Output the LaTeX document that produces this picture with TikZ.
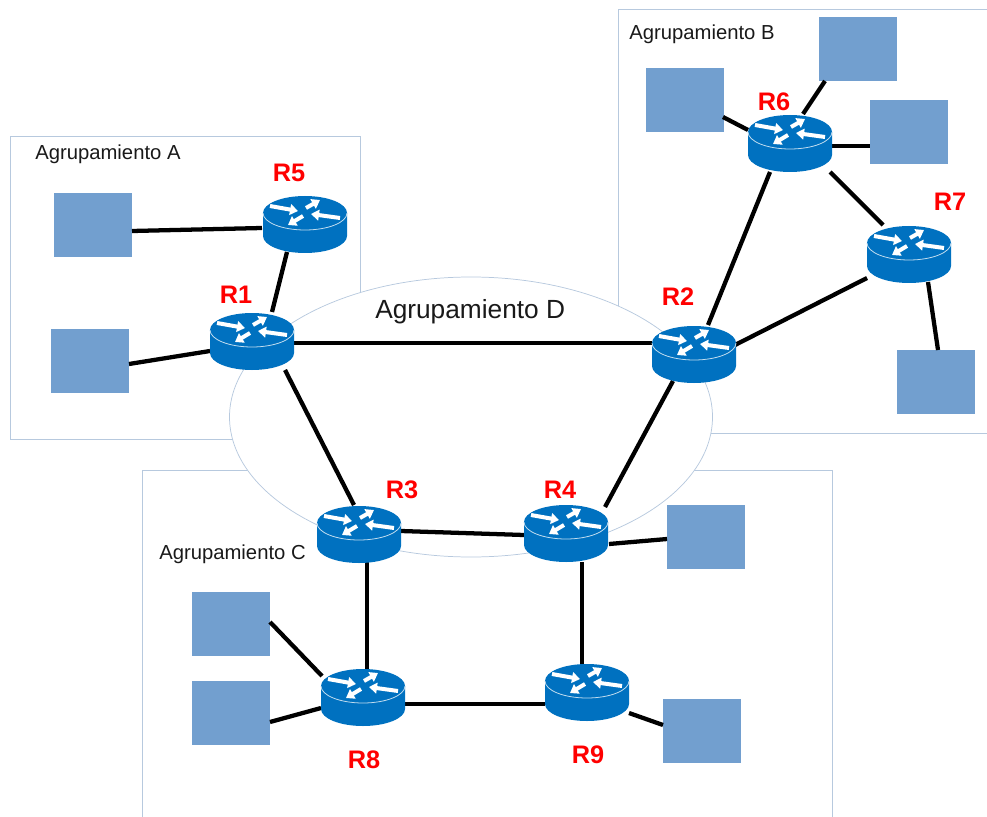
\documentclass[tikz,border=0pt]{standalone}
\usepackage{fontspec}
\setmainfont{Liberation Sans}
\usetikzlibrary{calc,arrows.meta}
\definecolor{frameC}{HTML}{B7C9DE}
\definecolor{routerC}{HTML}{0071C0}
\definecolor{squareC}{HTML}{729FCF}
\tikzset{
  frame/.style={draw=frameC,line width=0.7pt},
  zone/.style={draw=frameC,line width=0.55pt,fill=white},
  link/.style={draw=black,line width=3.2pt},
  host/.style={fill=squareC,draw=none,minimum width=58.5pt,minimum height=48pt,inner sep=0pt,outer sep=0pt},
  routerbox/.style={minimum width=63pt,minimum height=42.75pt,inner sep=0pt,outer sep=0pt},
  rlabel/.style={text=red,font=\fontsize{19}{22}\selectfont\bfseries,inner sep=0pt},
  ztext/.style={font=\fontsize{15.2}{18}\selectfont,anchor=base west,inner sep=0pt,text=black!90},
  flow/.style={draw=white,line width=3pt,-{Triangle[width=8pt,length=6pt]}},
  router/.pic={
    \fill[routerC] (-42,-11) -- (-42,12) arc[x radius=42,y radius=17,start angle=180,end angle=0] -- (42,-11) -- cycle;
    \fill[routerC] (0,-11) ellipse[x radius=42,y radius=17];
    \draw[white!75!routerC,line width=0.6pt] (-42,-11) arc[x radius=42,y radius=17,start angle=180,end angle=0];
    \draw[flow] (-35,-18) -- (-7,-13);
    \draw[flow] (1,-16) -- (15,-24);
    \draw[flow] (35,-6) -- (6,-10);
    \draw[flow] (-2,-8) -- (-17,1);
  }
}
\begin{document}
\begin{tikzpicture}[x=0.75pt,y=-0.75pt]
\useasboundingbox (0,0) rectangle (987,816);
\clip (0,0) rectangle (987,816);
% frames
\draw[frame] (10,136) rectangle (360,439);
\draw[frame] (618,9) rectangle (1000,433);
\draw[frame] (142,470) rectangle (832,830);
\draw[zone] (471,417) ellipse[x radius=241.5,y radius=140];
% text
\node[ztext] (ta) at (35,160) {Agrupamiento A};
\node[ztext] (tb) at (629,40) {Agrupamiento B};
\node[ztext] (tc) at (159,559) {Agrupamiento C};
\node[ztext,font=\fontsize{19.7}{24}\selectfont] (td) at (375,318) {Agrupamiento D};
% hosts
\node[host] (a1) at (93,225) {};
\node[host] (a2) at (90,361) {};
\node[host] (b1) at (685,100) {};
\node[host] (b2) at (858,49) {};
\node[host] (b3) at (909,132) {};
\node[host] (b4) at (936,382) {};
\node[host] (c1) at (706,537) {};
\node[host] (c2) at (231,624) {};
\node[host] (c3) at (231,713) {};
\node[host] (c4) at (702,731) {};
% routers
\node[routerbox] (r1) at (252,341) {};
\node[routerbox] (r2) at (694,354) {};
\node[routerbox] (r3) at (359,534) {};
\node[routerbox] (r4) at (566,533) {};
\node[routerbox] (r5) at (305,224) {};
\node[routerbox] (r6) at (790,143) {};
\node[routerbox] (r7) at (909,254) {};
\node[routerbox] (r8) at (363,697) {};
\node[routerbox] (r9) at (587,692) {};
% connectors
\draw[link] ($(a1)+(39,6)$) -- ($(r5)+(-43,4)$);
\draw[link] ($(a2)+(39,3)$) -- ($(r1)+(-42,10)$);
\draw[link] ($(r1)+(20,-29)$) -- ($(r5)+(-18,28)$);
\draw[link] ($(r1)+(42,2)$) -- ($(r2)+(-42,-11)$);
\draw[link] ($(r1)+(33,29)$) -- ($(r3)+(-5,-29)$);
\draw[link] ($(r2)+(-21,27)$) -- ($(r4)+(39,-26)$);
\draw[link] ($(r3)+(42,-3)$) -- ($(r4)+(-42,2)$);
\draw[link] ($(r2)+(14,-29)$) -- ($(r6)+(-20,29)$);
\draw[link] ($(r2)+(41,-9)$) -- ($(r7)+(-42,24)$);
\draw[link] ($(r6)+(40,29)$) -- ($(r7)+(-26,-29)$);
\draw[link] ($(b1)+(38,17)$) -- ($(r6)+(-42,-13)$);
\draw[link] ($(b2)+(-33,32)$) -- ($(r6)+(13,-29)$);
\draw[link] ($(r6)+(42,3)$) -- ($(b3)+(-39,14)$);
\draw[link] ($(r7)+(19,28)$) -- ($(b4)+(2,-32)$);
\draw[link] ($(r4)+(43,11)$) -- ($(c1)+(-39,2)$);
\draw[link] ($(r4)+(16,29)$) -- ($(r9)+(-5,-28)$);
\draw[link] ($(r3)+(8,28)$) -- ($(r8)+(4,-28)$);
\draw[link] ($(r8)+(42,7)$) -- ($(r9)+(-42,12)$);
\draw[link] ($(c2)+(39,-2)$) -- ($(r8)+(-41,-21)$);
\draw[link] ($(c3)+(39,9)$) -- ($(r8)+(-42,11)$);
\draw[link] ($(r9)+(42,21)$) -- ($(c4)+(-39,-6)$);
% router drawings
\foreach \r in {r1,r2,r3,r4,r5,r6,r7,r8,r9} { \pic at (\r) {router}; }
% labels
\node[rlabel] (l1) at (236,295) {R1};
\node[rlabel] (l2) at (678,297) {R2};
\node[rlabel] (l3) at (402,490) {R3};
\node[rlabel] (l4) at (560,490) {R4};
\node[rlabel] (l5) at (289,173) {R5};
\node[rlabel] (l6) at (774,102) {R6};
\node[rlabel] (l7) at (950,202) {R7};
\node[rlabel] (l8) at (364,760) {R8};
\node[rlabel] (l9) at (588,755) {R9};
\end{tikzpicture}
\end{document}
